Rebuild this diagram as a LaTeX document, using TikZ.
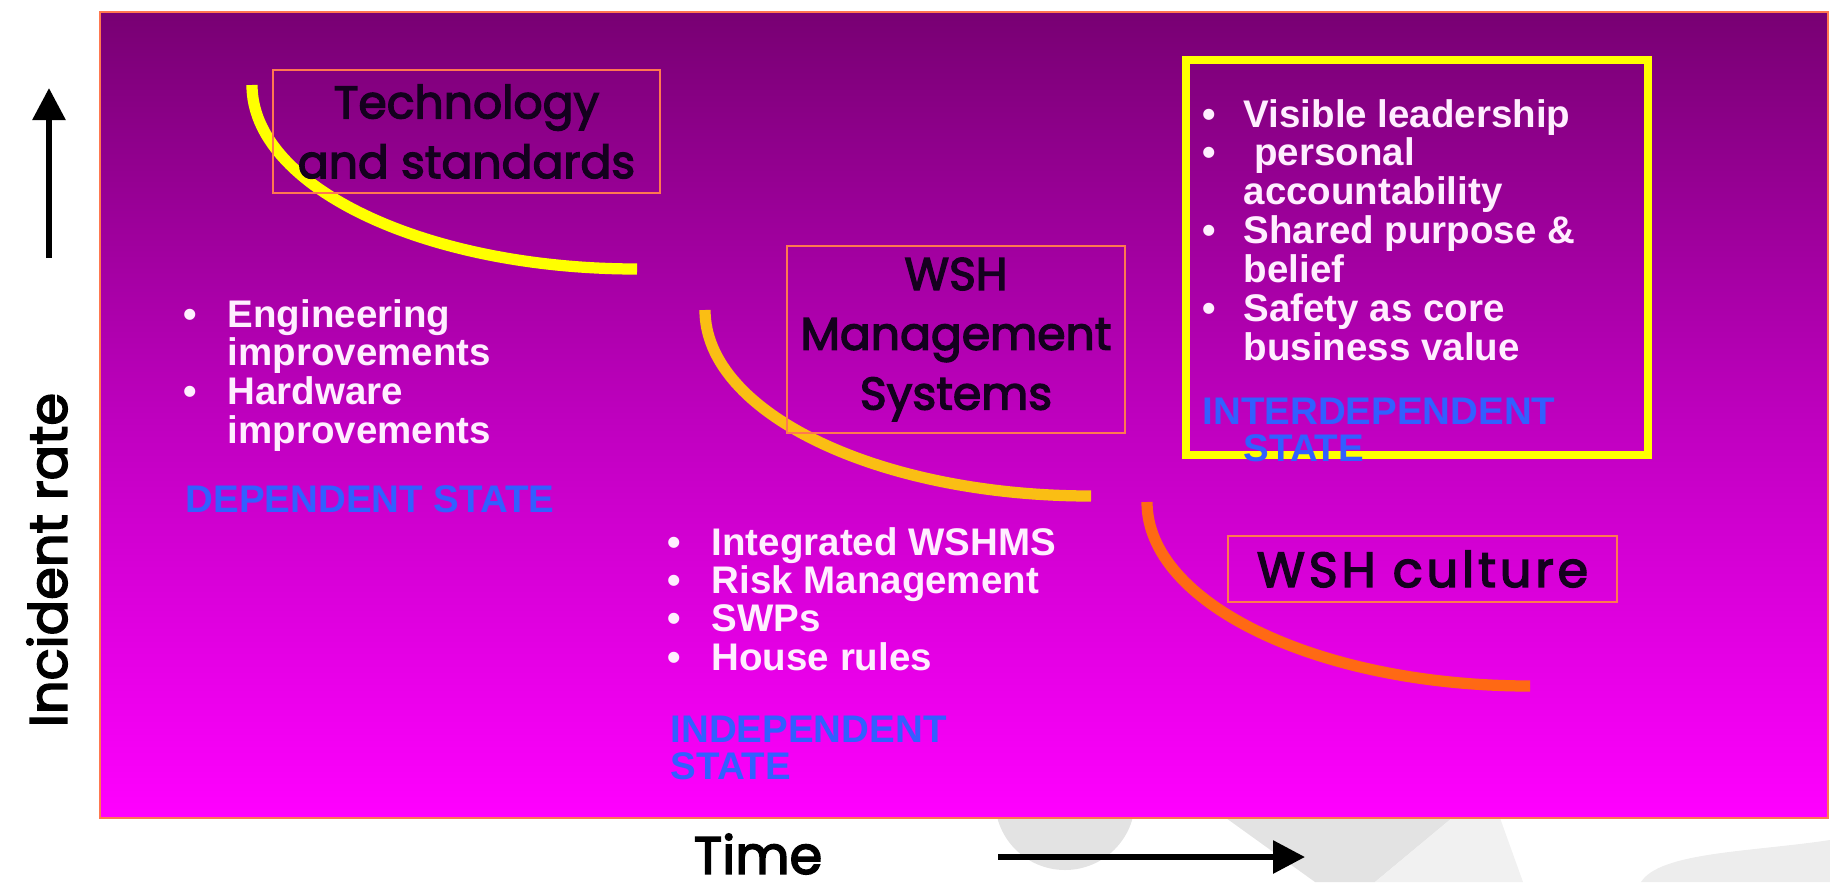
\documentclass[tikz,border=0pt]{standalone}
\usepackage{fontspec}
\setmainfont{Liberation Sans}
\newfontfamily\comicfont{Poppins}[FakeBold=3]
\usetikzlibrary{arrows.meta, positioning}

\definecolor{slideTop}{RGB}{120,0,115}
\definecolor{slideMid}{RGB}{190,0,190}
\definecolor{slideBottom}{RGB}{255,0,255}
\definecolor{boxLine}{RGB}{255,120,80}
\definecolor{curveOne}{RGB}{255,255,0}
\definecolor{curveTwo}{RGB}{250,190,20}
\definecolor{curveThree}{RGB}{255,105,20}
\definecolor{stateBlue}{RGB}{50,95,255}
\definecolor{bulletWhite}{RGB}{255,238,255}
\definecolor{inkBlack}{RGB}{20,0,30}

\tikzstyle{slideBack} = [rectangle, draw=boxLine, line width=0.5pt, top color=slideTop, bottom color=slideBottom, middle color=slideMid, inner sep=0pt]
\tikzstyle{stageBox} = [rectangle, draw=boxLine, line width=0.5pt, text centered, align=center, text=inkBlack, font=\comicfont\fontsize{13}{17}\selectfont]
\tikzstyle{bulletList} = [anchor=base west, inner sep=0pt, text=bulletWhite, font=\bfseries\fontsize{10.95}{10.44}\selectfont]
\tikzstyle{stateLabel} = [anchor=base west, inner sep=0pt, text=stateBlue, font=\bfseries\fontsize{10.95}{10.44}\selectfont]
\tikzstyle{axisLabel} = [inner sep=0pt, text=black, font=\comicfont\fontsize{15}{18}\selectfont]
\tikzstyle{stageCurve} = [line width=3.2pt]
\tikzstyle{arrow} = [line width=1.7pt, -{Triangle[length=0.32cm, width=0.32cm]}]

\begin{document}
\begin{tikzpicture}
\useasboundingbox (0,0) rectangle (18.30,8.82);

% watermark behind the slide
\fill[gray!22] (10.65,0.82) circle (0.70);
\fill[gray!22] (12.26,0.64) -- (14.52,0.64) -- (13.75,0) -- (13.15,0) -- cycle;
\fill[gray!11] (14.52,0.64) -- (15.00,0.64) -- (15.23,0) -- (13.75,0) -- cycle;
\fill[gray!14] (16.41,0) .. controls (16.60,0.30) and (17.50,0.30) .. (18.30,0.42) -- (18.30,0) -- cycle;

\node (slide) [slideBack, minimum width=17.28cm, minimum height=8.06cm] at (9.64,4.67) {};

% axes
\coordinate (rateTail) at (0.49,6.24);
\coordinate (rateTip) at (0.49,7.94);
\coordinate (timeTail) at (9.98,0.25);
\coordinate (timeTip) at (13.05,0.25);
\draw [arrow] (rateTail) -- (rateTip);
\draw [arrow] (timeTail) -- (timeTip);
\node (rateLabel) [axisLabel, rotate=90] at (0.47,3.22) {Incident rate};
\node (timeLabel) [axisLabel] at (7.58,0.28) {Time};

% stages
\draw [stageCurve, curveOne] (2.52,7.97) arc[start angle=180, end angle=270, x radius=3.85, y radius=1.84];
\draw [stageCurve, curveTwo] (7.05,5.72) arc[start angle=180, end angle=270, x radius=3.86, y radius=1.86];
\draw [stageCurve, curveThree] (11.47,3.80) arc[start angle=180, end angle=270, x radius=3.83, y radius=1.84];

\node (techBox) [stageBox, minimum width=3.87cm, minimum height=1.23cm] at (4.665,7.505) {Technology\\and standards};
\node (wshmsBox) [stageBox, minimum width=3.38cm, minimum height=1.85cm] at (9.56,5.425) {WSH\\Management\\Systems};
\node (cultureBox) [stageBox, minimum width=3.89cm, minimum height=0.66cm] at (14.225,3.13) {\addfontfeature{LetterSpace=8}\fontsize{14}{17}\selectfont WSH culture};
\node (cultureFrame) [rectangle, draw=curveOne, line width=2.4pt, minimum width=4.62cm, minimum height=3.95cm] at (14.17,6.245) {};

% bullet lists
\node (dependentList) [bulletList] at (1.83,5.55) {\begin{tabular}[t]{@{}p{0.44cm}@{}l@{}}
\textbullet & Engineering\\
 & improvements\\
\textbullet & Hardware\\
 & improvements
\end{tabular}};
\node (independentList) [bulletList] at (6.67,3.27) {\begin{tabular}[t]{@{}p{0.44cm}@{}l@{}}
\textbullet & Integrated WSHMS\\
\textbullet & Risk Management\\
\textbullet & SWPs\\
\textbullet & House rules
\end{tabular}};
\node (interdependentList) [bulletList] at (12.02,7.55) {\begin{tabular}[t]{@{}p{0.41cm}@{}l@{}}
\textbullet & Visible leadership\\
\textbullet & \ personal\\
 & accountability\\
\textbullet & Shared purpose \&\\
 & belief\\
\textbullet & Safety as core\\
 & business value
\end{tabular}};

% states
\node (dependentState) [stateLabel] at (1.85,3.70) {DEPENDENT STATE};
\node (independentState) [stateLabel] at (6.70,1.40) {\begin{tabular}[t]{@{}l@{}}INDEPENDENT\\STATE\end{tabular}};
\node (interdependentState) [stateLabel] at (12.02,4.58) {\begin{tabular}[t]{@{}l@{}}INTERDEPENDENT\\\hspace*{0.41cm}STATE\end{tabular}};
\end{tikzpicture}
\end{document}
